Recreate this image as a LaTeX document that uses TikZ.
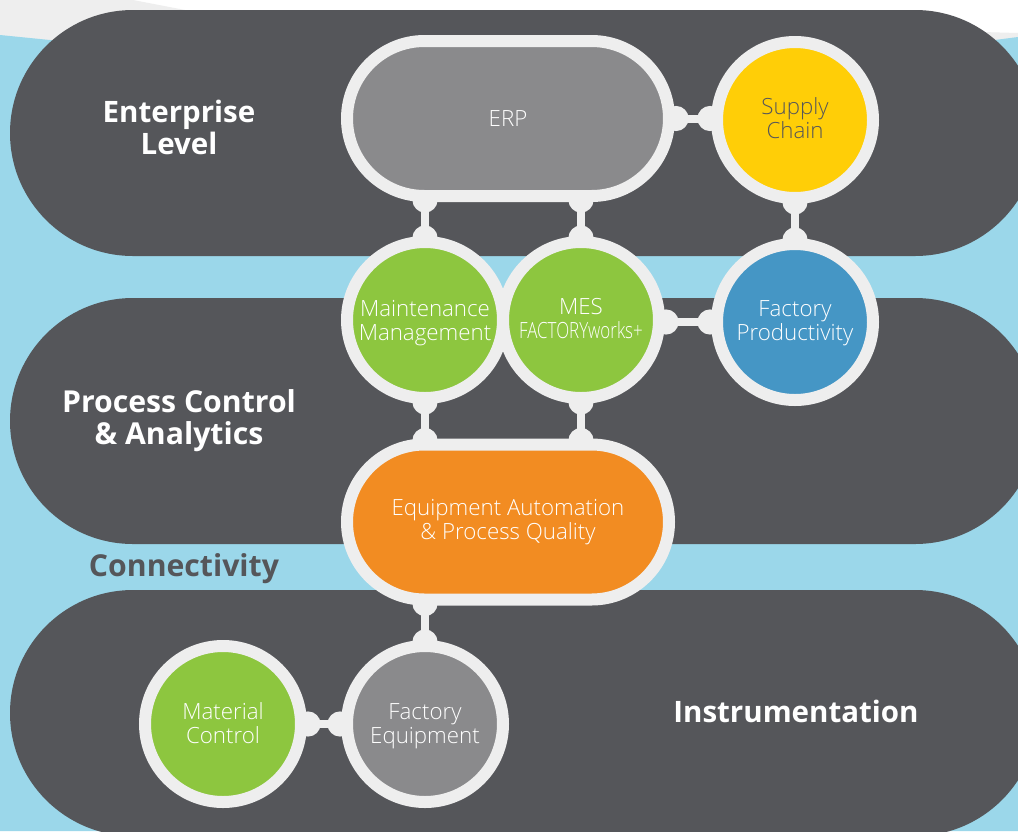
\documentclass[tikz,border=0pt]{standalone}
\usepackage{fontspec}
\usepackage{graphicx}
\usetikzlibrary{shapes.misc,arrows.meta,backgrounds}
\setmainfont{Open Sans}
\newfontfamily\lightf{Open Sans Light}
\newfontfamily\boldf{Open Sans Bold}
\definecolor{barc}{HTML}{55565A}
\definecolor{skyc}{HTML}{9BD7EA}
\definecolor{ringc}{HTML}{EEEEEE}
\definecolor{greenc}{HTML}{8DC63F}
\definecolor{orangec}{HTML}{F28C22}
\definecolor{yellowc}{HTML}{FFCE07}
\definecolor{bluec}{HTML}{4596C5}
\definecolor{grayc}{HTML}{8A8A8C}
\tikzset{
  barshape/.style={fill=barc,rounded corners=123pt},
  ringbase/.style={draw=ringc,line width=12pt,inner sep=0pt,outer sep=0pt,text=white,align=center,
    text height=44pt,text depth=8pt,
    font=\lightf\fontsize{22.3}{24}\selectfont},
  disc/.style={ringbase,circle,minimum size=156pt},
  pill/.style={ringbase,rounded rectangle,minimum width=322pt,minimum height=155pt},
  level/.style={font=\boldf\fontsize{29.5}{32}\selectfont,text=white,align=center,inner sep=0pt},
  levelbig/.style={level,font=\boldf\fontsize{30.2}{32}\selectfont},
  linkbase/.style={draw=ringc,line width=8pt,
    {Circle[length=25pt,width=25pt,fill=ringc]}-{Circle[length=25pt,width=25pt,fill=ringc]}},
  vlink/.style={linkbase,shorten <=-8.5pt,shorten >=-8.5pt},
  hlink/.style={linkbase,shorten <=-5.5pt,shorten >=-5.5pt}
}
\begin{document}
\begin{tikzpicture}[x=1pt,y=-1pt]
\path[use as bounding box,clip] (0,0) rectangle (1018,831);
\begin{pgfonlayer}{background}
  \fill[white] (0,0) rectangle (1018,831);
  \fill[ringc] (0,0) -- (133,0) -- (185,10) -- (1018,33) -- (1018,60) -- (0,60) -- cycle;
  \fill[skyc] (0,35) -- (50,40) .. controls (300,60) and (800,60) .. (987,41) -- (1018,37) -- (1018,831) -- (0,831) -- cycle;
  \fill[barshape] (10,10) rectangle (1038,256);
  \fill[barshape] (10,298) rectangle (1038,544);
  \fill[barshape] (10,590) rectangle (1038,836);
\end{pgfonlayer}

\node[pill,fill=grayc,text height=20pt,text depth=5pt] (erp) at (508,118.5) {ERP};
\node[disc,fill=yellowc,text=barc] (supply) at (795,120) {Supply\\Chain};
\node[disc,fill=greenc,text depth=4pt] (maint) at (425,320) {Maintenance\\Management};
\node[disc,fill=greenc] (mes) at (581,320) {MES\\\scalebox{0.76}[1]{FACTORYworks+}};
\node[disc,fill=bluec] (prod) at (795,322) {Factory\\Productivity};
\node[pill,fill=orangec,text depth=10pt] (equip) at (508,522) {Equipment Automation\\\& Process Quality};
\node[disc,fill=grayc,text depth=6pt] (fequip) at (425,724) {Factory\\Equipment};
\node[disc,fill=greenc,text depth=6pt] (material) at (223,724) {Material\\Control};

\node[level] (l1) at (179,127) {Enterprise\\Level};
\node[levelbig] (l2) at (179,421) {Process Control\\\& Analytics};
\node[level] (l3) at (796,711) {Instrumentation};
\node[levelbig,text=barc] (l4) at (184,569) {Connectivity};

\begin{pgfonlayer}{background}
  \draw[vlink] (erp.south -| maint.north) -- (maint.north);
  \draw[vlink] (erp.south -| mes.north) -- (mes.north);
  \draw[hlink] (erp.east) -- (erp.east -| supply.west);
  \draw[vlink] (supply.south) -- (prod.north);
  \draw[hlink] (mes.east |- prod.west) -- (prod.west);
  \draw[vlink] (maint.south) -- (maint.south |- equip.north);
  \draw[vlink] (mes.south) -- (mes.south |- equip.north);
  \draw[vlink] (equip.south -| fequip.north) -- (fequip.north);
  \draw[hlink] (material.east) -- (fequip.west);
\end{pgfonlayer}
\end{tikzpicture}
\end{document}
